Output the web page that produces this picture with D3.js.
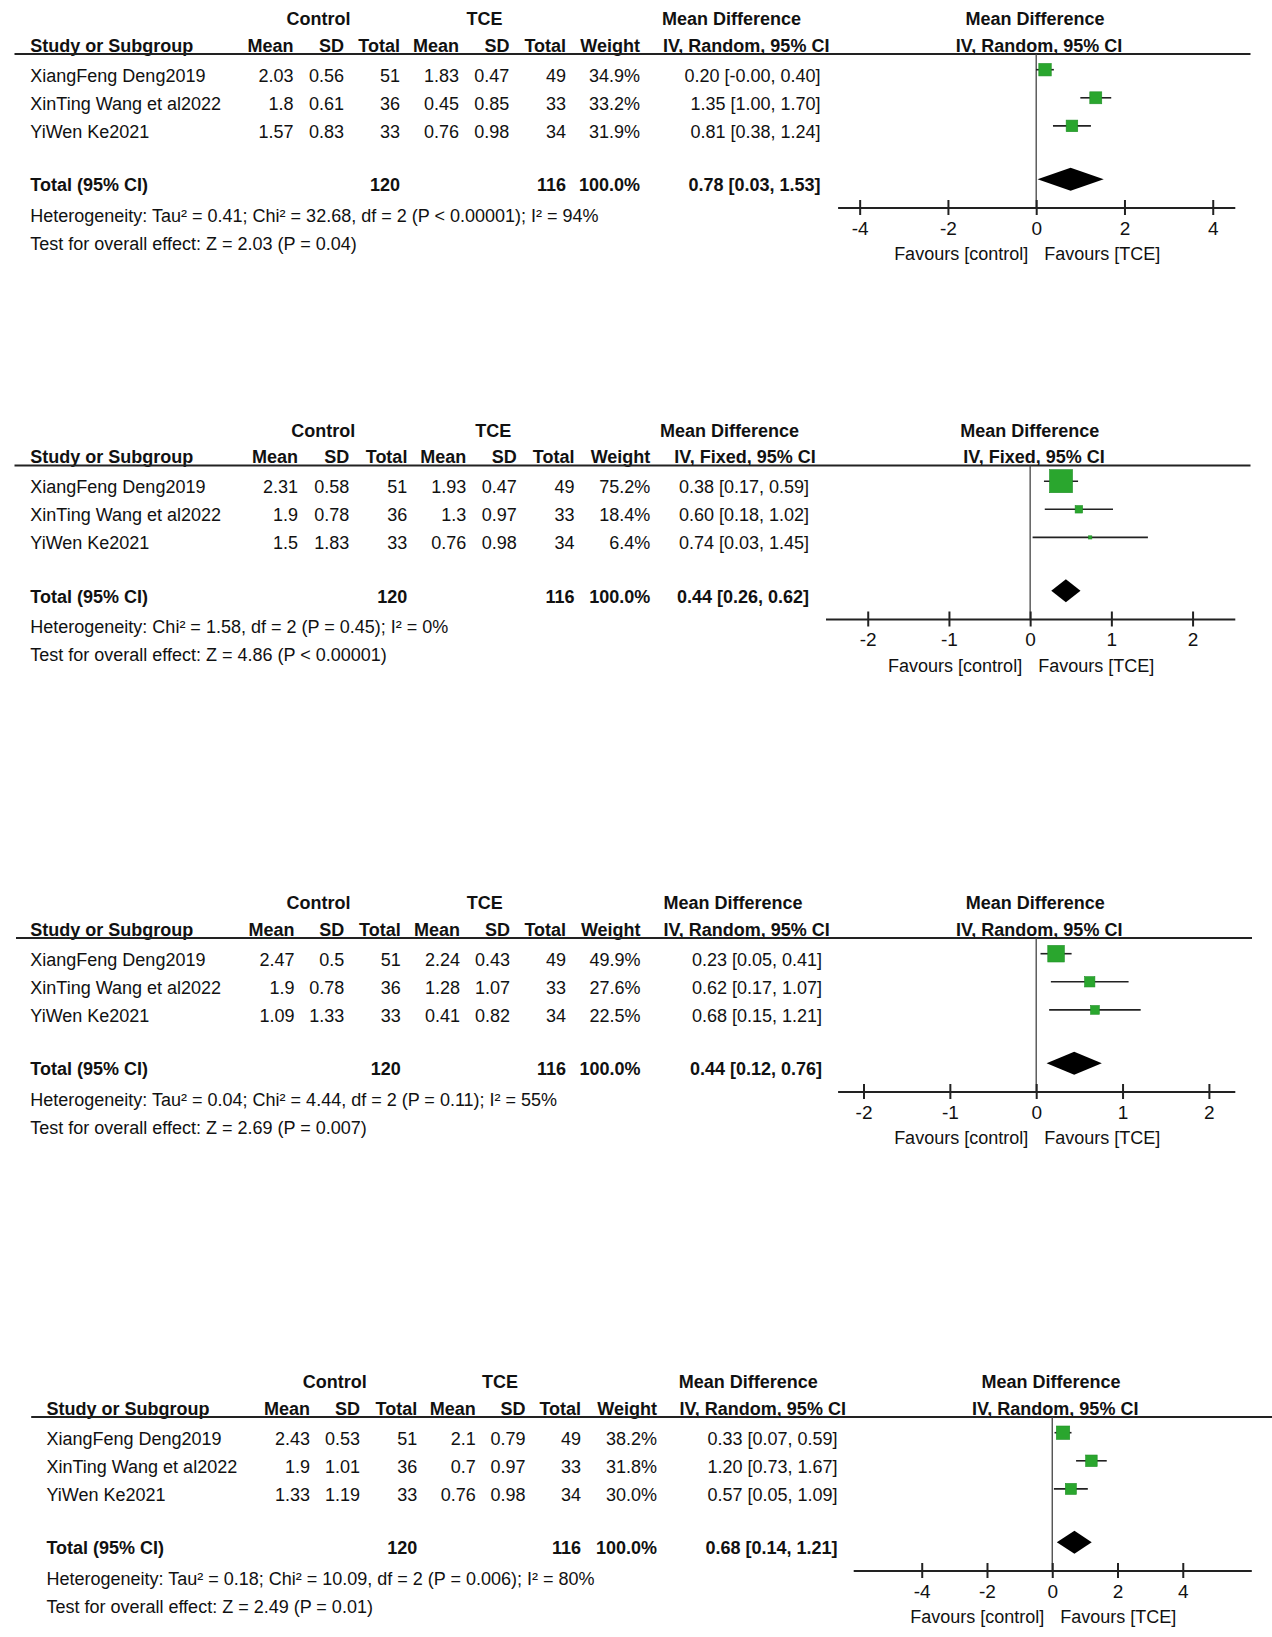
<!DOCTYPE html>
<html><head><meta charset="utf-8">
<script src="https://cdn.jsdelivr.net/npm/d3@7"></script>
<style>
html,body{margin:0;padding:0;background:#fff;}
svg text{font-family:"Liberation Sans",Arial,Helvetica,sans-serif;font-size:18px;fill:#111;}
svg text.b{font-weight:bold;}
</style></head><body>
<svg id="chart" width="1272" height="1637"></svg>
<script>
// ---------- shared categories / labels ----------
const studies = ["XiangFeng Deng2019", "XinTing Wang et al2022", "YiWen Ke2021"];
const ticksWide = [-4, -2, 0, 2, 4];
const ticksNarrow = [-2, -1, 0, 1, 2];
const groupLabels = ["Control", "TCE"];
const colHeaders = ["Mean", "SD", "Total", "Mean", "SD", "Total", "Weight"];
const favourLabels = ["Favours [control]", "Favours [TCE]"];

// ---------- panel 1 (IV, Random) ----------
const p1CtrlMean = [2.03, 1.8, 1.57];
const p1CtrlSD = [0.56, 0.61, 0.83];
const p1CtrlN = [51, 36, 33];
const p1TceMean = [1.83, 0.45, 0.76];
const p1TceSD = [0.47, 0.85, 0.98];
const p1TceN = [49, 33, 34];
const p1Weight = [34.9, 33.2, 31.9];
const p1MD = [0.20, 1.35, 0.81];
const p1Lo = [-0.004, 1.00, 0.38];
const p1Hi = [0.40, 1.70, 1.24];
const p1Total = [120, 116, 100.0, 0.78, 0.03, 1.53];
const p1Het = "Heterogeneity: Tau² = 0.41; Chi² = 32.68, df = 2 (P < 0.00001); I² = 94%";
const p1Test = "Test for overall effect: Z = 2.03 (P = 0.04)";

// ---------- panel 2 (IV, Fixed) ----------
const p2CtrlMean = [2.31, 1.9, 1.5];
const p2CtrlSD = [0.58, 0.78, 1.83];
const p2CtrlN = [51, 36, 33];
const p2TceMean = [1.93, 1.3, 0.76];
const p2TceSD = [0.47, 0.97, 0.98];
const p2TceN = [49, 33, 34];
const p2Weight = [75.2, 18.4, 6.4];
const p2MD = [0.38, 0.60, 0.74];
const p2Lo = [0.17, 0.18, 0.03];
const p2Hi = [0.59, 1.02, 1.45];
const p2Total = [120, 116, 100.0, 0.44, 0.26, 0.62];
const p2Het = "Heterogeneity: Chi² = 1.58, df = 2 (P = 0.45); I² = 0%";
const p2Test = "Test for overall effect: Z = 4.86 (P < 0.00001)";

// ---------- panel 3 (IV, Random) ----------
const p3CtrlMean = [2.47, 1.9, 1.09];
const p3CtrlSD = [0.5, 0.78, 1.33];
const p3CtrlN = [51, 36, 33];
const p3TceMean = [2.24, 1.28, 0.41];
const p3TceSD = [0.43, 1.07, 0.82];
const p3TceN = [49, 33, 34];
const p3Weight = [49.9, 27.6, 22.5];
const p3MD = [0.23, 0.62, 0.68];
const p3Lo = [0.05, 0.17, 0.15];
const p3Hi = [0.41, 1.07, 1.21];
const p3Total = [120, 116, 100.0, 0.44, 0.12, 0.76];
const p3Het = "Heterogeneity: Tau² = 0.04; Chi² = 4.44, df = 2 (P = 0.11); I² = 55%";
const p3Test = "Test for overall effect: Z = 2.69 (P = 0.007)";

// ---------- panel 4 (IV, Random) ----------
const p4CtrlMean = [2.43, 1.9, 1.33];
const p4CtrlSD = [0.53, 1.01, 1.19];
const p4CtrlN = [51, 36, 33];
const p4TceMean = [2.1, 0.7, 0.76];
const p4TceSD = [0.79, 0.97, 0.98];
const p4TceN = [49, 33, 34];
const p4Weight = [38.2, 31.8, 30.0];
const p4MD = [0.33, 1.20, 0.57];
const p4Lo = [0.07, 0.73, 0.05];
const p4Hi = [0.59, 1.67, 1.09];
const p4Total = [120, 116, 100.0, 0.68, 0.14, 1.21];
const p4Het = "Heterogeneity: Tau² = 0.18; Chi² = 10.09, df = 2 (P = 0.006); I² = 80%";
const p4Test = "Test for overall effect: Z = 2.49 (P = 0.01)";

// ---------- layout (positions only) ----------
const panels = [
  { model: "IV, Random, 95% CI", dy: 0, half: 4.5, ticks: ticksWide,
    data: [p1CtrlMean, p1CtrlSD, p1CtrlN, p1TceMean, p1TceSD, p1TceN, p1Weight, p1MD, p1Lo, p1Hi, p1Total, p1Het, p1Test],
    studyX: 30.3, cols: [293.6, 344, 400, 459, 509.4, 566.1, 640], ctrlC: 318.6, tceC: 484.5,
    mdLeft: 662, ivLeft: 663, ciRight: 820.5, rule: [14.5, 1250.5], axis: [837.6, 1234.8], titleC: 1035, ivC: 1039 },
  { model: "IV, Fixed, 95% CI", dy: 411.5, half: 2.52, ticks: ticksNarrow,
    data: [p2CtrlMean, p2CtrlSD, p2CtrlN, p2TceMean, p2TceSD, p2TceN, p2Weight, p2MD, p2Lo, p2Hi, p2Total, p2Het, p2Test],
    studyX: 30.3, cols: [298, 349.3, 407.4, 466.3, 516.8, 574.5, 650.3], ctrlC: 323.2, tceC: 493.3,
    mdLeft: 660, ivLeft: 674.3, ciRight: 809, rule: [14.5, 1250.5], axis: [825.5, 1234.8], titleC: 1029.7, ivC: 1034 },
  { model: "IV, Random, 95% CI", dy: 884, half: 2.3, ticks: ticksNarrow,
    data: [p3CtrlMean, p3CtrlSD, p3CtrlN, p3TceMean, p3TceSD, p3TceN, p3Weight, p3MD, p3Lo, p3Hi, p3Total, p3Het, p3Test],
    studyX: 30.3, cols: [294.6, 344.3, 400.7, 460, 510.1, 566.1, 640.6], ctrlC: 318.6, tceC: 484.8,
    mdLeft: 663.4, ivLeft: 663.4, ciRight: 822, rule: [16, 1252], axis: [837.6, 1234.8], titleC: 1035.2, ivC: 1039.2 },
  { model: "IV, Random, 95% CI", dy: 1363, half: 6.1, ticks: ticksWide,
    data: [p4CtrlMean, p4CtrlSD, p4CtrlN, p4TceMean, p4TceSD, p4TceN, p4Weight, p4MD, p4Lo, p4Hi, p4Total, p4Het, p4Test],
    studyX: 46.4, cols: [310, 360, 417.2, 475.7, 525.6, 581.1, 657], ctrlC: 334.8, tceC: 500,
    mdLeft: 678.7, ivLeft: 679.5, ciRight: 837.5, rule: [31.2, 1272], axis: [853.2, 1251.3], titleC: 1051, ivC: 1055.2 }
];

const svg = d3.select("#chart");
// row index -> text baseline
const rowY = d3.scaleLinear().domain([0, 1]).range([81.7, 109.8]);
const sizeScale = d3.scalePow().exponent(0.8).domain([0, 100]).range([0, 28.9]);
const Y = { title: 25, head: 51.5, rule: 54, total: 3.9, het: 221.6, test: 249.8, axis: 207.5, fav: 260, markerOff: -12 };

function txt(g, x, y, s, anchor, bold) {
  return g.append("text").attr("x", x).attr("y", y).attr("text-anchor", anchor || "start")
    .attr("class", bold ? "b" : null).text(s);
}

panels.forEach(P => {
  const [cm, csd, cn, tm, tsd, tn, w, md, lo, hi, tot, het, test] = P.data;
  const g = svg.append("g").attr("transform", `translate(0,${P.dy})`);
  const x = d3.scaleLinear().domain([-P.half, P.half]).range(P.axis);

  // titles
  txt(g, P.ctrlC, Y.title, groupLabels[0], "middle", true);
  txt(g, P.tceC, Y.title, groupLabels[1], "middle", true);
  txt(g, P.mdLeft, Y.title, "Mean Difference", "start", true);
  txt(g, P.titleC, Y.title, "Mean Difference", "middle", true);

  // header row
  txt(g, P.studyX, Y.head, "Study or Subgroup", "start", true);
  colHeaders.forEach((h, i) => txt(g, P.cols[i], Y.head, h, "end", true));
  txt(g, P.ivLeft, Y.head, P.model, "start", true);
  txt(g, P.ivC, Y.head, P.model, "middle", true);

  g.append("line").attr("x1", P.rule[0]).attr("x2", P.rule[1])
    .attr("y1", Y.rule).attr("y2", Y.rule).attr("stroke", "#222").attr("stroke-width", 2);

  // study rows
  studies.forEach((s, i) => {
    const yy = rowY(i);
    txt(g, P.studyX, yy, s);
    const vals = [String(cm[i]), String(csd[i]), String(cn[i]), String(tm[i]), String(tsd[i]), String(tn[i]), w[i].toFixed(1) + "%"];
    vals.forEach((v, j) => txt(g, P.cols[j], yy, v, "end"));
    txt(g, P.ciRight, yy, `${md[i].toFixed(2)} [${lo[i].toFixed(2)}, ${hi[i].toFixed(2)}]`, "end");
  });

  // total row
  const ty = rowY(Y.total);
  txt(g, P.studyX, ty, "Total (95% CI)", "start", true);
  txt(g, P.cols[2], ty, String(tot[0]), "end", true);
  txt(g, P.cols[5], ty, String(tot[1]), "end", true);
  txt(g, P.cols[6], ty, tot[2].toFixed(1) + "%", "end", true);
  txt(g, P.ciRight, ty, `${tot[3].toFixed(2)} [${tot[4].toFixed(2)}, ${tot[5].toFixed(2)}]`, "end", true);

  txt(g, P.studyX, Y.het, het);
  txt(g, P.studyX, Y.test, test);

  // zero line
  g.append("line").attr("x1", x(0)).attr("x2", x(0)).attr("y1", Y.rule).attr("y2", Y.axis)
    .attr("stroke", "#444").attr("stroke-width", 1.3);

  // CI lines + squares
  studies.forEach((s, i) => {
    const cy = rowY(i) + Y.markerOff;
    g.append("line").attr("x1", x(lo[i])).attr("x2", x(hi[i])).attr("y1", cy).attr("y2", cy)
      .attr("stroke", "#222").attr("stroke-width", 1.6);
    const sz = sizeScale(w[i]);
    g.append("rect").attr("x", x(md[i]) - sz / 2).attr("y", cy - sz / 2)
      .attr("width", sz).attr("height", sz).attr("fill", "#2aa62e").attr("stroke", "#1f8f25").attr("stroke-width", 0.6);
  });

  // diamond
  const dcy = ty + Y.markerOff;
  const dh = 11.5;
  g.append("path").attr("d",
    `M${x(tot[4])},${dcy} L${x(tot[3])},${dcy - dh} L${x(tot[5])},${dcy} L${x(tot[3])},${dcy + dh} Z`)
    .attr("fill", "#000");

  // axis
  const ax = g.append("g").attr("transform", `translate(0,${Y.axis})`)
    .call(d3.axisBottom(x).tickValues(P.ticks).tickSizeInner(8).tickSizeOuter(0).tickPadding(0).tickFormat(d => String(d)));
  ax.select(".domain").attr("stroke", "#222").attr("stroke-width", 2);
  ax.selectAll(".tick line").attr("y1", -7.5).attr("y2", 7.5).attr("stroke", "#222").attr("stroke-width", 2);
  ax.selectAll(".tick text").attr("y", 27).attr("dy", null)
    .style("font-family", '"Liberation Sans",Arial,sans-serif').style("font-size", "19px").attr("fill", "#111");

  txt(g, x(0) - 8, Y.fav, favourLabels[0], "end");
  txt(g, x(0) + 8, Y.fav, favourLabels[1], "start");
});
</script>
</body></html>
